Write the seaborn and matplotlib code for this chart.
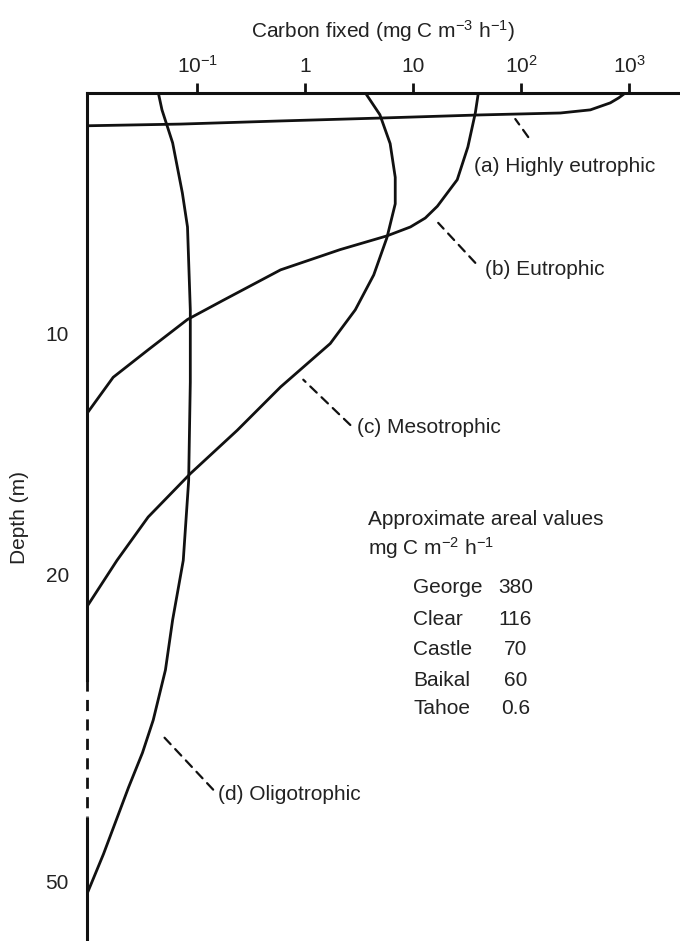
import numpy as np
import pandas as pd
import matplotlib
matplotlib.use("Agg")
import matplotlib.pyplot as plt
import seaborn as sns

# Depth profiles of carbon fixation
highly_carbon = [918, 800, 667, 436, 230, 41.7, 4.9, 0.59, 0.07, 0.0095]
highly_depth = [0, 0.2, 0.41, 0.7, 0.83, 0.91, 1.04, 1.16, 1.29, 1.36]

eutro_carbon = [40, 37.5, 32, 25.5, 16.7, 12.9, 9.4, 5.7, 2.1, 0.59, 0.174, 0.081, 0.035, 0.0166, 0.0095]
eutro_depth = [0, 0.83, 2.24, 3.6, 4.7, 5.19, 5.56, 5.93, 6.5, 7.34, 8.6, 9.4, 10.66, 11.8, 13.3]

meso_carbon = [3.6, 4.9, 6.1, 6.8, 6.8, 5.7, 4.3, 2.9, 1.7, 0.59, 0.234, 0.086, 0.035, 0.018, 0.0095]
meso_depth = [0, 0.9, 2.1, 3.5, 4.6, 6.0, 7.55, 9.0, 10.4, 12.2, 14.0, 15.8, 17.6, 19.4, 23.1]

oligo_carbon = [0.0435, 0.047, 0.059, 0.0726, 0.081, 0.086, 0.086, 0.083, 0.074, 0.059,
                0.0506, 0.039, 0.031, 0.023, 0.0135, 0.0095]
oligo_depth = [0, 0.7, 2.07, 4.15, 5.56, 9.0, 12.0, 16.1, 19.4, 24.4,
               29.3, 34.2, 37.4, 40.8, 47.3, 51.2]

profile_names = ["(a) Highly eutrophic", "(b) Eutrophic", "(c) Mesotrophic", "(d) Oligotrophic"]

lakes = ["George", "Clear", "Castle", "Baikal", "Tahoe"]
areal_values = ["380", "116", "70", "60", "0.6"]

x_ticks = [0.1, 1, 10, 100, 1000]
x_ticklabels = ["10$^{-1}$", "1", "10", "10$^{2}$", "10$^{3}$"]
y_ticks = [10, 20, 50]

rows = []
for name, xs, ys in zip(profile_names,
                        [highly_carbon, eutro_carbon, meso_carbon, oligo_carbon],
                        [highly_depth, eutro_depth, meso_depth, oligo_depth]):
    for i, (x, y) in enumerate(zip(xs, ys)):
        rows.append({"profile": name, "order": i, "carbon": x, "depth": y})
df = pd.DataFrame(rows)

sns.set_theme(style="white")
plt.rcParams["font.family"] = ["Liberation Sans", "DejaVu Sans"]
plt.rcParams["mathtext.default"] = "regular"
plt.rcParams["font.size"] = 15

FS = 15
INK = "#111111"
TXT = "#222222"

# depth axis: linear to 20 m, compressed below
K = 0.4245


def fwd(d):
    d = np.asarray(d, dtype=float)
    return np.where(d <= 20, d, 20 + (d - 20) * K)


def inv(u):
    u = np.asarray(u, dtype=float)
    return np.where(u <= 20, u, 20 + (u - 20) / K)


fig = plt.figure(figsize=(6.8, 9.41), dpi=100)
ax = fig.add_axes([87 / 680, 0, 1 - 87 / 680, 1 - 93 / 941])

ax.set_xscale("log")
ax.set_yscale("function", functions=(fwd, inv))
x_min, x_max = 0.0095, 2950
y_bottom = 55.8
ax.set_xlim(x_min, x_max)
ax.set_ylim(y_bottom, 0)

sns.lineplot(data=df, x="carbon", y="depth", hue="profile",
             palette=[INK] * 4, sort=False, estimator=None,
             legend=False, lw=2.0, ax=ax)
for line in ax.get_lines():
    line.set_solid_joinstyle("round")
    line.set_solid_capstyle("round")

# axes styling
for side in ["right", "bottom"]:
    ax.spines[side].set_visible(False)
for side in ["left", "top"]:
    ax.spines[side].set_linewidth(2.2)
    ax.spines[side].set_color(INK)

break_top, break_bottom = 30.3, 43.7
ax.spines["left"].set_bounds(0, break_top)
ax.vlines(x_min, break_top, break_bottom, colors=INK, lw=2.0,
          linestyles=(0, (4, 3)), clip_on=False)
ax.vlines(x_min, break_bottom, y_bottom, colors=INK, lw=2.2, clip_on=False)

ax.xaxis.tick_top()
ax.xaxis.set_label_position("top")
ax.set_xticks(x_ticks)
ax.set_xticklabels(x_ticklabels)
ax.xaxis.set_minor_locator(matplotlib.ticker.NullLocator())
ax.set_yticks(y_ticks)
ax.set_yticklabels([str(t) for t in y_ticks])
ax.yaxis.set_minor_locator(matplotlib.ticker.NullLocator())
ax.tick_params(axis="both", direction="out", length=7, width=2, color=INK,
               labelsize=FS, labelcolor=TXT)
ax.tick_params(axis="x", pad=5)
ax.tick_params(axis="y", pad=6)

ax.set_xlabel("Carbon fixed (mg C m$^{-3}$ h$^{-1}$)", fontsize=FS, labelpad=12, color=TXT)
ax.set_ylabel("Depth (m)", fontsize=FS, labelpad=12, color=TXT)

# curve labels with dashed leaders
leader_start = [(88, 1.08), (17.0, 5.39), (0.957, 11.9), (0.0484, 35.8)]
leader_end = [(116, 1.83), (37.5, 7.05), (2.61, 13.78), (0.14, 41.0)]
label_pos = [(36.7, 3.07), (46.4, 7.34), (3.03, 13.9), (0.156, 41.5)]
for name, s, e, p in zip(profile_names, leader_start, leader_end, label_pos):
    ax.annotate("", xy=s, xytext=e,
                arrowprops=dict(arrowstyle="-", color=INK, lw=1.6,
                                linestyle=(0, (4, 3)), shrinkA=0, shrinkB=0))
    ax.text(p[0], p[1], name, ha="left", va="center", fontsize=FS, color=TXT)

# areal values table
ax.text(3.83, 17.7, "Approximate areal values", ha="left", va="center", fontsize=FS, color=TXT)
ax.text(3.83, 18.9, "mg C m$^{-2}$ h$^{-1}$", ha="left", va="center", fontsize=FS, color=TXT)
row_depths = [21.27, 24.4, 27.3, 30.3, 33.1]
for lake, val, d in zip(lakes, areal_values, row_depths):
    ax.text(10.0, d, lake, ha="left", va="center", fontsize=FS, color=TXT)
    ax.text(88, d, val, ha="center", va="center", fontsize=FS, color=TXT)

fig.savefig("out.png", dpi=100)
